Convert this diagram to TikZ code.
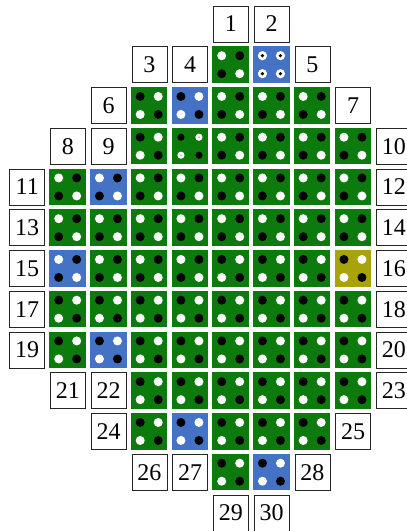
\documentclass[tikz,border=0pt]{standalone}
\usepackage{fontspec}
\setmainfont{Liberation Serif}
\definecolor{fgreen}{RGB}{12,122,12}
\definecolor{fblue}{RGB}{68,114,196}
\definecolor{fyellow}{RGB}{168,163,10}
\definecolor{fpink}{RGB}{230,120,200}
\tikzset{
  cellbox/.style={minimum width=36.5pt, minimum height=36.5pt, inner sep=0pt, draw=none, anchor=north west},
  labbox/.style={draw=black!85, line width=0.9pt, fill=white, minimum width=35pt, minimum height=36pt, inner sep=0pt, anchor=north west, font=\fontsize{24}{24}\selectfont},
}
\newcommand\fdot[4]{\fill[#4] ([shift={(#2,#3)}]#1.center) circle[radius=4.5pt];}
\newcommand\fpatone[1]{\fdot{#1}{-9}{-9}{white}\fdot{#1}{9}{-9}{black}\fdot{#1}{-9}{9}{black}\fdot{#1}{9}{9}{white}}
\newcommand\fpattwo[1]{\fdot{#1}{-9}{-9}{black}\fdot{#1}{9}{-9}{white}\fdot{#1}{-9}{9}{white}\fdot{#1}{9}{9}{black}}
\newcommand\fsdot[4]{\fill[#4] ([shift={(#2,#3)}]#1.center) circle[radius=3.6pt];}
\newcommand\fpdot[3]{\fill[fpink] ([shift={(#2,#3)}]#1.center) circle[radius=0.9pt];}
\newcommand\fpatthree[1]{\fsdot{#1}{-9}{-9}{black}\fsdot{#1}{9}{-9}{white}\fsdot{#1}{-9}{9}{white}\fsdot{#1}{9}{9}{black}\fpdot{#1}{9}{-9}\fpdot{#1}{-9}{9}}
\newcommand\fring[3]{\fill[white] ([shift={(#2,#3)}]#1.center) circle[radius=4.6pt]; \fill[black] ([shift={(#2,#3)}]#1.center) circle[radius=1.8pt];}
\newcommand\fpatfour[1]{\fring{#1}{-9}{-9}\fring{#1}{9}{-9}\fring{#1}{-9}{9}\fring{#1}{9}{9}}
\newcommand\fuelcell[5]{%
  \node[cellbox, fill=#4] (#1) at ({8.5+40.75*#2},{5.5+40.75*(#3-1)}) {};
  \csname fpat#5\endcsname{#1}}
\newcommand\labcell[4]{%
  \node[labbox] (#1) at ({9.25+40.75*#2},{5.5+40.75*(#3-1)}) {#4};}
\begin{document}
\begin{tikzpicture}[x=1pt,y=-1pt]
\useasboundingbox (0,0) rectangle (407,531);
\clip (0,0) rectangle (407,531);
\fill[white] (0,0) rectangle (407,531);
% fuel cells: col/row/colour/pattern
\foreach \cc/\rr/\ff/\pp in {
  5/2/fgreen/one, 6/2/fblue/four,
  3/3/fgreen/two, 4/3/fblue/two, 5/3/fgreen/one, 6/3/fgreen/one, 7/3/fgreen/one,
  3/4/fgreen/two, 4/4/fgreen/three, 5/4/fgreen/one, 6/4/fgreen/one, 7/4/fgreen/one, 8/4/fgreen/one,
  1/5/fgreen/one, 2/5/fblue/one, 3/5/fgreen/one, 4/5/fgreen/one, 5/5/fgreen/one, 6/5/fgreen/one, 7/5/fgreen/one, 8/5/fgreen/one,
  1/6/fgreen/one, 2/6/fgreen/one, 3/6/fgreen/one, 4/6/fgreen/one, 5/6/fgreen/one, 6/6/fgreen/one, 7/6/fgreen/one, 8/6/fgreen/one,
  1/7/fblue/one, 2/7/fgreen/one, 3/7/fgreen/one, 4/7/fgreen/one, 5/7/fgreen/two, 6/7/fgreen/two, 7/7/fgreen/two, 8/7/fyellow/two,
  1/8/fgreen/two, 2/8/fgreen/two, 3/8/fgreen/two, 4/8/fgreen/two, 5/8/fgreen/two, 6/8/fgreen/two, 7/8/fgreen/two, 8/8/fgreen/two,
  1/9/fgreen/two, 2/9/fblue/two, 3/9/fgreen/two, 4/9/fgreen/two, 5/9/fgreen/two, 6/9/fgreen/two, 7/9/fgreen/two, 8/9/fgreen/two,
  3/10/fgreen/two, 4/10/fgreen/two, 5/10/fgreen/two, 6/10/fgreen/two, 7/10/fgreen/two, 8/10/fgreen/two,
  3/11/fgreen/two, 4/11/fblue/two, 5/11/fgreen/two, 6/11/fgreen/two, 7/11/fgreen/two,
  5/12/fgreen/two, 6/12/fblue/two}
  {\fuelcell{f-\cc-\rr}{\cc}{\rr}{\ff}{\pp}}
% labels: col/row/text
\foreach \cc/\rr/\tt in {
  5/1/1, 6/1/2, 3/2/3, 4/2/4, 7/2/5, 2/3/6, 8/3/7, 1/4/8, 2/4/9, 9/4/10,
  0/5/11, 9/5/12, 0/6/13, 9/6/14, 0/7/15, 9/7/16, 0/8/17, 9/8/18, 0/9/19, 9/9/20,
  1/10/21, 2/10/22, 9/10/23, 2/11/24, 8/11/25, 3/12/26, 4/12/27, 7/12/28, 5/13/29, 6/13/30}
  {\labcell{l-\tt}{\cc}{\rr}{\tt}}
\end{tikzpicture}
\end{document}
